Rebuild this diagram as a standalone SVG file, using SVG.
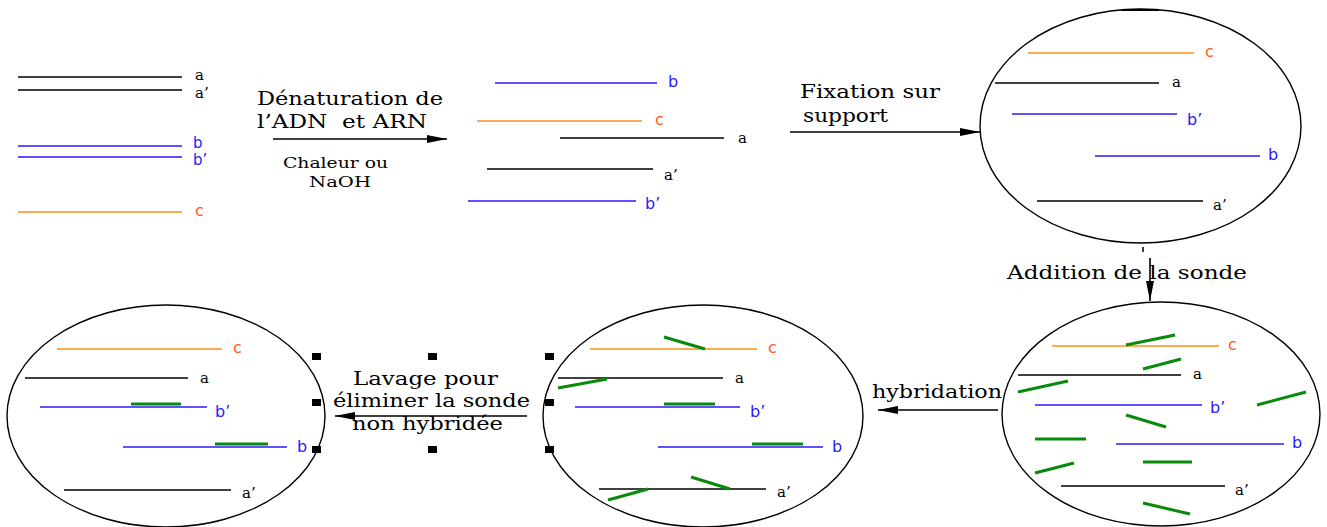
<svg xmlns="http://www.w3.org/2000/svg" width="1327" height="527" viewBox="0 0 1327 527">
<style>
.k{stroke:#000;stroke-width:1.3;fill:none}
.bl{stroke:#2a1aff;stroke-width:1.3;fill:none}
.or{stroke:#ff8c1a;stroke-width:1.6;fill:none}
.gr{stroke:#0a8a0a;stroke-width:3;fill:none;stroke-linecap:butt}
.el{stroke:#000;stroke-width:1.4;fill:#fff}
.la{font-family:"DejaVu Serif","Liberation Serif",serif;font-size:15px;fill:#000}
.lb{font-family:"DejaVu Sans","Liberation Sans",sans-serif;font-size:16px;fill:#2a1aff}
.lc{font-family:"DejaVu Sans","Liberation Sans",sans-serif;font-size:16px;fill:#ff5a1a}
.t{font-family:"DejaVu Serif","Liberation Serif",serif;font-size:18px;fill:#000}
.ts{font-family:"DejaVu Serif","Liberation Serif",serif;font-size:14px;fill:#000}
.ar{stroke:#000;stroke-width:1.6;fill:none}
.h{fill:#000}
</style>
<defs>
<marker id="ah" markerUnits="userSpaceOnUse" markerWidth="22" markerHeight="12" refX="20" refY="5" orient="auto">
<path d="M0,1 L20,5 L0,9 Z" fill="#000"/>
</marker>
</defs>

<g id="duplex">
<line class="k" x1="18" y1="77" x2="182" y2="77"/>
<line class="k" x1="18" y1="90" x2="182" y2="90"/>
<line class="bl" x1="18" y1="146" x2="182" y2="146"/>
<line class="bl" x1="18" y1="157" x2="182" y2="157"/>
<line class="or" x1="18" y1="212" x2="182" y2="212"/>
<text class="la" x="195" y="80">a</text>
<text class="la" x="195" y="98">a’</text>
<text class="lb" x="193" y="148" style="font-size:15px">b</text>
<text class="lb" x="193" y="165" style="font-size:15px">b’</text>
<text class="lc" x="195" y="216">c</text>
</g>

<g id="denatured">
<line class="bl" x1="495" y1="83" x2="657" y2="83"/>
<line class="or" x1="477" y1="121" x2="642" y2="121"/>
<line class="k" x1="560" y1="138" x2="724" y2="138"/>
<line class="k" x1="487" y1="169" x2="653" y2="169"/>
<line class="bl" x1="468" y1="201" x2="636" y2="201"/>
<text class="lb" x="668" y="87">b</text>
<text class="lc" x="655" y="125">c</text>
<text class="la" x="738" y="143">a</text>
<text class="la" x="664" y="180">a’</text>
<text class="lb" x="645" y="209">b’</text>
</g>

<g id="support">
<ellipse class="el" cx="1140.5" cy="126" rx="160.5" ry="117"/>
<line x1="1121" y1="10" x2="1159" y2="10" stroke="#000" stroke-width="2"/>
<line class="or" x1="1028" y1="53" x2="1194" y2="53"/>
<line class="k" x1="995" y1="83" x2="1159" y2="83"/>
<line class="bl" x1="1012" y1="114" x2="1177" y2="114"/>
<line class="bl" x1="1095" y1="156" x2="1260" y2="156"/>
<line class="k" x1="1037" y1="201" x2="1203" y2="201"/>
<text class="lc" x="1205" y="57">c</text>
<text class="la" x="1172" y="87">a</text>
<text class="lb" x="1187" y="125">b’</text>
<text class="lb" x="1268" y="160">b</text>
<text class="la" x="1213" y="210">a’</text>
</g>

<g id="probe">
<ellipse class="el" cx="1161" cy="414" rx="159" ry="112"/>
<line class="or" x1="1052" y1="346" x2="1219" y2="346"/>
<line class="k" x1="1018" y1="375" x2="1181" y2="375"/>
<line class="bl" x1="1035" y1="405" x2="1202" y2="405"/>
<line class="bl" x1="1116" y1="444" x2="1284" y2="444"/>
<line class="k" x1="1061" y1="486" x2="1225" y2="486"/>
<line class="gr" x1="1126" y1="345" x2="1175" y2="335"/>
<line class="gr" x1="1143" y1="369" x2="1181" y2="359"/>
<line class="gr" x1="1018" y1="392" x2="1068" y2="381"/>
<line class="gr" x1="1257" y1="405" x2="1306" y2="392"/>
<line class="gr" x1="1126" y1="415" x2="1166" y2="427"/>
<line class="gr" x1="1035" y1="439" x2="1086" y2="439"/>
<line class="gr" x1="1143" y1="462" x2="1192" y2="462"/>
<line class="gr" x1="1035" y1="473" x2="1074" y2="463"/>
<line class="gr" x1="1143" y1="503" x2="1190" y2="514"/>
<text class="lc" x="1228" y="350">c</text>
<text class="la" x="1193" y="379">a</text>
<text class="lb" x="1210" y="413">b’</text>
<text class="lb" x="1292" y="448">b</text>
<text class="la" x="1235" y="495">a’</text>
</g>

<g id="hybrid">
<ellipse class="el" cx="703" cy="416" rx="160" ry="111"/>
<line class="or" x1="590" y1="349" x2="757" y2="349"/>
<line class="k" x1="558" y1="378" x2="723" y2="378"/>
<line class="bl" x1="575" y1="407" x2="740" y2="407"/>
<line class="bl" x1="658" y1="447" x2="823" y2="447"/>
<line class="k" x1="599" y1="489" x2="766" y2="489"/>
<line class="gr" x1="664" y1="337" x2="705" y2="349"/>
<line class="gr" x1="558" y1="388" x2="607" y2="379"/>
<line class="gr" x1="664" y1="404" x2="715" y2="404"/>
<line class="gr" x1="752" y1="444" x2="803" y2="444"/>
<line class="gr" x1="691" y1="477" x2="730" y2="489"/>
<line class="gr" x1="608" y1="500" x2="648" y2="489"/>
<text class="lc" x="768" y="353">c</text>
<text class="la" x="735" y="383">a</text>
<text class="lb" x="750" y="417">b’</text>
<text class="lb" x="832" y="452">b</text>
<text class="la" x="777" y="497">a’</text>
</g>

<g id="washed">
<ellipse class="el" cx="166" cy="416" rx="159" ry="111"/>
<line class="or" x1="57" y1="349" x2="222" y2="349"/>
<line class="k" x1="25" y1="378" x2="188" y2="378"/>
<line class="bl" x1="40" y1="407" x2="207" y2="407"/>
<line class="bl" x1="123" y1="447" x2="287" y2="447"/>
<line class="k" x1="64" y1="490" x2="231" y2="490"/>
<line class="gr" x1="131" y1="404" x2="181" y2="404"/>
<line class="gr" x1="215" y1="444" x2="268" y2="444"/>
<text class="lc" x="233" y="353">c</text>
<text class="la" x="200" y="383">a</text>
<text class="lb" x="215" y="417">b’</text>
<text class="lb" x="297" y="452">b</text>
<text class="la" x="242" y="498">a’</text>
</g>

<g id="handles">
<rect class="h" x="312" y="353" width="9" height="7"/>
<rect class="h" x="428" y="353" width="9" height="7"/>
<rect class="h" x="545" y="353" width="9" height="7"/>
<rect class="h" x="312" y="399" width="9" height="7"/>
<rect class="h" x="545" y="399" width="9" height="7"/>
<rect class="h" x="312" y="446" width="9" height="7"/>
<rect class="h" x="428" y="446" width="9" height="7"/>
<rect class="h" x="545" y="446" width="9" height="7"/>
</g>

<g id="connectors">
<line class="ar" x1="273" y1="139" x2="447" y2="139" marker-end="url(#ah)"/>
<line class="ar" x1="790" y1="132" x2="980" y2="132" marker-end="url(#ah)"/>
<line x1="1143" y1="247" x2="1143" y2="252" stroke="#000" stroke-width="1.5"/>
<line class="ar" x1="1150" y1="258" x2="1150" y2="301" marker-end="url(#ah)"/>
<line class="ar" x1="998" y1="410" x2="878" y2="410" marker-end="url(#ah)"/>
<line class="ar" x1="527" y1="416" x2="335" y2="416" marker-end="url(#ah)"/>
</g>

<g id="labels">
<text class="t" x="257" y="105" textLength="186" lengthAdjust="spacingAndGlyphs">Dénaturation de</text>
<text class="t" x="257" y="128" textLength="170" lengthAdjust="spacingAndGlyphs" xml:space="preserve">l’ADN  et ARN</text>
<text class="ts" x="283" y="168" textLength="105" lengthAdjust="spacingAndGlyphs">Chaleur ou</text>
<text class="ts" x="309" y="187" textLength="62" lengthAdjust="spacingAndGlyphs">NaOH</text>
<text class="t" x="800" y="98" textLength="140" lengthAdjust="spacingAndGlyphs">Fixation sur</text>
<text class="t" x="803" y="122" textLength="85" lengthAdjust="spacingAndGlyphs">support</text>
<text class="t" x="1007" y="279" textLength="240" lengthAdjust="spacingAndGlyphs">Addition de la sonde</text>
<text class="t" x="872" y="398" textLength="130" lengthAdjust="spacingAndGlyphs">hybridation</text>
<text class="t" x="353" y="385" textLength="145" lengthAdjust="spacingAndGlyphs">Lavage pour</text>
<text class="t" x="333" y="407" textLength="197" lengthAdjust="spacingAndGlyphs">éliminer la sonde</text>
<text class="t" x="352" y="430" textLength="151" lengthAdjust="spacingAndGlyphs">non hybridée</text>
</g>
</svg>
